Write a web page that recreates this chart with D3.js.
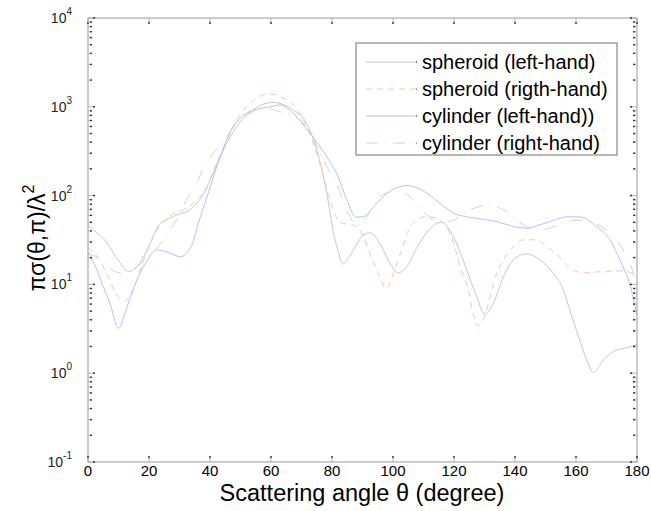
<!DOCTYPE html>
<html>
<head>
<meta charset="utf-8">
<script src="https://cdn.jsdelivr.net/npm/d3@7"></script>
<style>
  body { margin: 0; background: #fff; }
  text { font-family: Arial, "Liberation Sans", sans-serif; }
</style>
</head>
<body>
<svg id="chart"></svg>
<script>
// Series: [angle (deg), value]
const spheroidLeft = [
  [0, 46], [3, 38], [6, 30], [10, 18.5], [13.3, 14], [16.5, 16.5], [20, 27], [23, 45],
  [26, 54], [30, 62], [33.5, 69], [36, 85], [38, 106], [41, 178], [44.4, 326], [48.7, 597],
  [54, 916], [58.6, 1100], [61, 1120], [63, 1090], [67.3, 916], [71.7, 650], [75, 326],
  [78.3, 106], [80.5, 38], [82, 24], [83.5, 17], [85, 19], [87, 24.4], [90.3, 36], [92.5, 38],
  [95.7, 29], [99, 17.3], [101.7, 13.5], [104.5, 15.8], [107.7, 25.5], [111, 38], [114, 48],
  [116, 50], [119.8, 34.5], [124.2, 14.5], [127.4, 7.3], [130.1, 4.6], [132.9, 6.1],
  [136.2, 12.2], [140, 19.7], [143.8, 22], [148.2, 18.8], [152.6, 13.3], [155.9, 8.6],
  [158, 5.1], [160.8, 2.6], [163.5, 1.41], [165.7, 1.02], [169, 1.41], [172.2, 1.75],
  [176.6, 1.94], [180, 2.1]
];
const spheroidRight = [
  [0, 26], [3.4, 19.7], [6.1, 13.3], [9.4, 7.6], [12, 6.5], [15.4, 9.8], [18.7, 20.5],
  [22, 37.6], [24.2, 49], [27, 60], [31.2, 69], [34.5, 82], [38.9, 126], [42.2, 231],
  [45.5, 423], [48.7, 711], [52, 1000], [55.3, 1250], [59.7, 1400], [63, 1300], [67.3, 1050],
  [71.7, 597], [76, 231], [79.5, 85], [82.6, 50], [86, 47], [88, 45], [90.3, 34.5], [93, 19.7],
  [95.2, 13.3], [97.9, 9], [100.1, 13.3], [102.8, 24.4], [106.1, 47], [111, 58], [115.4, 53],
  [119.8, 30], [122, 15.8], [124.7, 8.6], [126.3, 4.7], [128, 3.4], [130.7, 5.1], [132.9, 10.3],
  [136.2, 18.8], [139.5, 26.6], [143.3, 32], [147.1, 31.6], [150.4, 26.6], [154.8, 20],
  [158, 15.2], [162.4, 13.5], [168, 13.9], [174.4, 14.2], [178.8, 13.3], [180, 12.2]
];
const cylinderLeft = [
  [0, 23.4], [3.4, 13.3], [5, 9.4], [7.2, 6.1], [10, 3.2], [12.1, 4.7], [13.8, 7], [16.5, 12.2],
  [19.2, 18], [22.5, 24.4], [26.3, 23], [30.2, 20.5], [34, 27.6], [36.2, 49], [39.4, 106],
  [43.3, 273], [47.6, 597], [52, 845], [56.4, 960], [60, 1000], [63, 1050], [67.3, 845],
  [72.8, 506], [78.3, 273], [82, 163], [84.8, 90], [88, 57], [90.3, 58], [94.4, 80], [97.9, 105],
  [102, 125], [104.5, 130], [109.9, 113], [115.4, 82], [120, 63], [124.2, 57.6], [129.6, 54],
  [134, 51], [138.9, 45.5], [143.8, 43], [148.2, 47], [151.5, 51], [157, 57.6], [161.3, 57.6],
  [166.8, 44.6], [171.2, 31.6], [174.4, 18.8], [177.7, 9.8], [180, 4.5]
];
const cylinderRight = [
  [0, 22.4], [3.4, 19.7], [7.8, 14.5], [11, 13.5], [14.3, 14.5], [18.1, 18], [22.5, 25.5],
  [26.9, 41], [29, 53], [32.3, 89], [35.6, 137], [37.8, 203], [41.1, 299], [45.5, 460],
  [48.7, 650], [54.2, 880], [58.6, 960], [63, 880], [69.6, 711], [72.8, 506], [78.3, 211],
  [81.5, 137], [84.8, 69], [88, 47], [91.4, 57.6], [94.7, 89], [98, 108], [101.2, 111],
  [105.6, 97], [109.9, 66], [115.4, 50], [119.8, 53], [125.2, 69], [131.8, 78], [136.2, 69],
  [140.6, 53], [143.8, 44.6], [148.2, 41], [152.6, 44.6], [157, 51], [160.2, 53], [165.7, 49],
  [172.2, 34.5], [175.5, 24.4], [177.7, 17.3], [180, 10]
];

const seriesNames = ["spheroid (left-hand)", "spheroid (rigth-hand)", "cylinder (left-hand))", "cylinder (right-hand)"];
const xTicks = [0, 20, 40, 60, 80, 100, 120, 140, 160, 180];
const yExponents = [-1, 0, 1, 2, 3, 4];

const dims = { width: 651, height: 511, left: 88, right: 637, top: 18, bottom: 462 };

const svg = d3.select("#chart")
    .attr("width", dims.width)
    .attr("height", dims.height);

const x = d3.scaleLinear().domain([0, 180]).range([dims.left, dims.right]);
const y = d3.scaleLog().domain([0.1, 10000]).range([dims.bottom, dims.top]);

// Line styles roughly matching the washed-out MATLAB export
const styles = [
  { color: "#c8c8c8", dash: null, dot: "#000" },
  { color: "#ffbcbc", dash: "6,5", dot: "#e00" },
  { color: "#bcbcff", dash: null, dot: "#00c" },
  { color: "#c0e0c0", dash: "12,7,1,7", dot: "#080" }
];
const allSeries = [spheroidLeft, spheroidRight, cylinderLeft, cylinderRight];

const line = d3.line()
    .x(d => x(d[0]))
    .y(d => y(d[1]))
    .curve(d3.curveMonotoneX);

const plot = svg.append("g");
allSeries.forEach((s, i) => {
  plot.append("path")
      .datum(s)
      .attr("fill", "none")
      .attr("stroke", styles[i].color)
      .attr("stroke-width", 1)
      .attr("stroke-dasharray", styles[i].dash)
      .attr("d", line);
});

// Axes box
const axisColor = "#9a9a9a";
svg.append("rect")
    .attr("x", dims.left).attr("y", dims.top)
    .attr("width", dims.right - dims.left).attr("height", dims.bottom - dims.top)
    .attr("fill", "none").attr("stroke", axisColor).attr("stroke-width", 1);

// Inward ticks with the little black tip dots
function tick(x1, y1, x2, y2) {
  svg.append("line")
      .attr("x1", x1).attr("y1", y1).attr("x2", x2).attr("y2", y2)
      .attr("stroke", "#b0b0b0").attr("stroke-width", 1);
  svg.append("rect")
      .attr("x", x2 - 0.75).attr("y", y2 - 0.75).attr("width", 1.5).attr("height", 1.5)
      .attr("fill", "#000");
}

xTicks.forEach(t => {
  tick(x(t), dims.bottom, x(t), dims.bottom - 5);
  tick(x(t), dims.top, x(t), dims.top + 5);
});

const minor = [];
yExponents.forEach(e => {
  if (e < 4) d3.range(2, 10).forEach(m => minor.push(m * Math.pow(10, e)));
});
minor.forEach(v => {
  tick(dims.left, y(v), dims.left + 3, y(v));
  tick(dims.right, y(v), dims.right - 3, y(v));
});
yExponents.forEach(e => {
  const v = Math.pow(10, e);
  tick(dims.left, y(v), dims.left + 6, y(v));
  tick(dims.right, y(v), dims.right - 6, y(v));
});

// Tick labels
svg.append("g").selectAll("text")
    .data(xTicks)
    .join("text")
    .attr("x", d => x(d))
    .attr("y", 476)
    .attr("text-anchor", "middle")
    .attr("font-size", 15)
    .text(d => d);

const yl = svg.append("g").selectAll("text")
    .data(yExponents)
    .join("text")
    .attr("x", 72)
    .attr("y", d => y(Math.pow(10, d)) + 5)
    .attr("text-anchor", "end")
    .attr("font-size", 14)
    .attr("fill", "#222");
yl.append("tspan").text("10");
yl.append("tspan").attr("dy", -8).attr("font-size", 10).text(d => d);

// Axis titles
svg.append("text")
    .attr("x", 362)
    .attr("y", 501)
    .attr("text-anchor", "middle")
    .attr("font-size", 23.5)
    .text("Scattering angle θ (degree)");

const ylab = svg.append("text")
    .attr("transform", "translate(45,238) rotate(-90)")
    .attr("text-anchor", "middle")
    .attr("font-size", 23);
ylab.append("tspan").text("πσ(θ,π)/λ");
ylab.append("tspan").attr("dy", -11).attr("font-size", 16).text("2");

// Legend
const lg = { x: 356, y: 43, w: 261, h: 112 };
svg.append("rect")
    .attr("x", lg.x).attr("y", lg.y).attr("width", lg.w).attr("height", lg.h)
    .attr("fill", "#fff").attr("stroke", "#707070").attr("stroke-width", 1);

seriesNames.forEach((name, i) => {
  const ry = lg.y + 19 + i * 27;
  svg.append("line")
      .attr("x1", lg.x + 10).attr("x2", lg.x + 60)
      .attr("y1", ry).attr("y2", ry)
      .attr("stroke", styles[i].color).attr("stroke-width", 1)
      .attr("stroke-dasharray", styles[i].dash);
  svg.append("rect")
      .attr("x", lg.x + 60).attr("y", ry - 0.5).attr("width", 1).attr("height", 1)
      .attr("fill", styles[i].dot);
  svg.append("text")
      .attr("x", lg.x + 66).attr("y", ry + 7)
      .attr("font-size", 20)
      .text(name);
});
</script>
</body>
</html>
